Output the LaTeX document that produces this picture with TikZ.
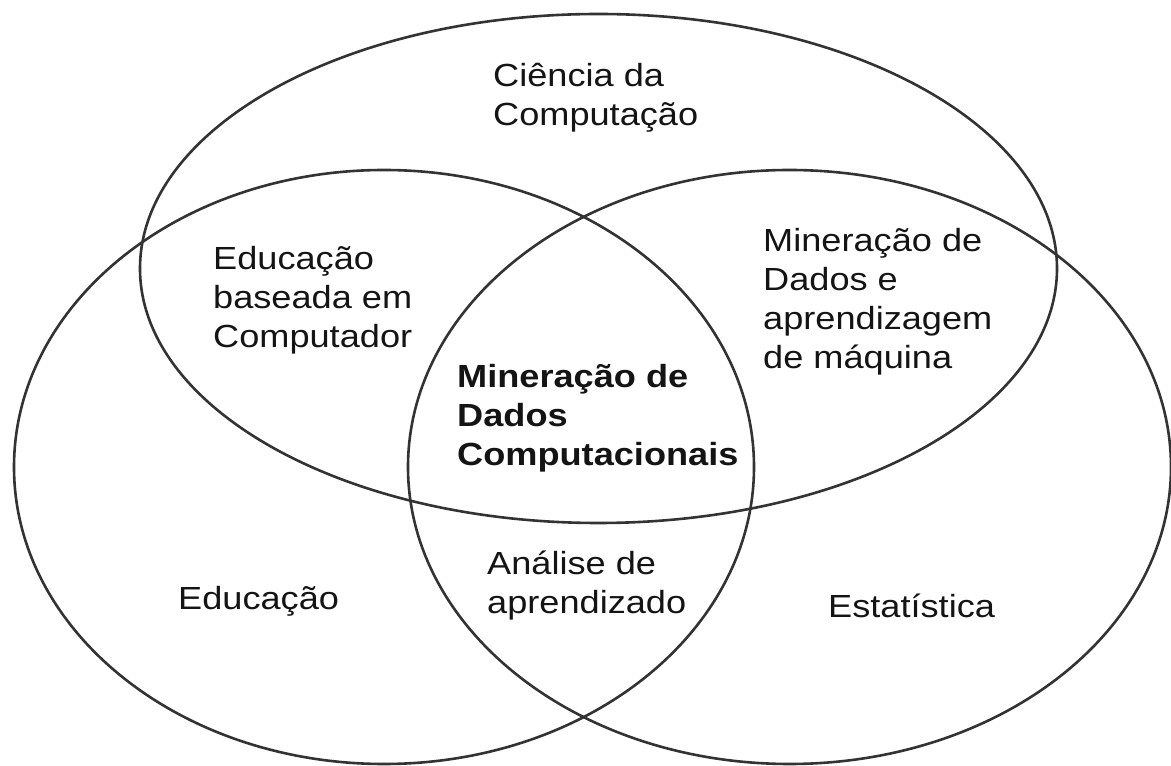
\documentclass[tikz,border=0pt]{standalone}
\usepackage{fontspec}
\setmainfont{Liberation Sans}[FakeStretch=1.13]
\newcommand{\stk}[1]{\vtop{\baselineskip=39pt #1}}
\begin{document}
\begin{tikzpicture}[x=1pt,y=1pt,
  ring/.style={draw=black!80, line width=2.6pt},
  lbl/.style={anchor=base west, inner sep=0pt, font=\fontsize{32}{39}\selectfont, text=black!92}]
\useasboundingbox (0,0) rectangle (1171,766);
\draw[ring] (598.5,497.5) ellipse [x radius=458.5, y radius=254.5];
\draw[ring] (384,299) ellipse [x radius=370, y radius=297];
\draw[ring] (789.5,299) ellipse [x radius=381.5, y radius=297];
\node[lbl] (cc) at (493,679) {\stk{\hbox{Ciência da}\hbox{Computação}}};
\node[lbl] (ebc) at (213,496) {\stk{\hbox{Educação}\hbox{baseada em}\hbox{Computador}}};
\node[lbl] (mdam) at (763,514) {\stk{\hbox{Mineração de}\hbox{Dados e}\hbox{aprendizagem}\hbox{de máquina}}};
\node[lbl, font=\fontsize{32}{39}\selectfont\bfseries] (mdc) at (457,378) {\stk{\hbox{Mineração de}\hbox{Dados}\hbox{Computacionais}}};
\node[lbl] (edu) at (178,156) {Educação};
\node[lbl] (ana) at (487,191) {\stk{\hbox{Análise de}\hbox{aprendizado}}};
\node[lbl] (est) at (828,148) {Estatística};
\end{tikzpicture}
\end{document}
